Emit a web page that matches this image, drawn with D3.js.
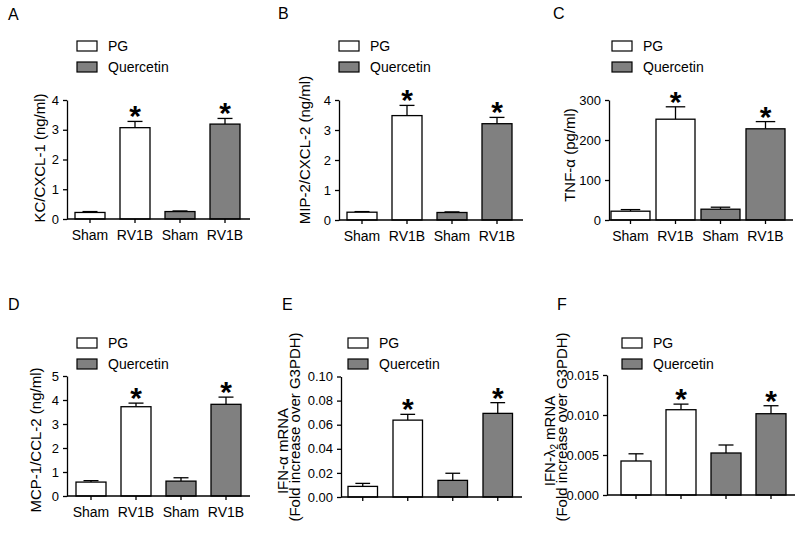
<!DOCTYPE html>
<html>
<head>
<meta charset="utf-8">
<script src="https://cdn.jsdelivr.net/npm/d3@7"></script>
<style>
  body { margin: 0; background: #fff; }
  svg text { font-family: "Liberation Sans", Arial, sans-serif; fill: #000; }
</style>
</head>
<body>
<svg id="fig" width="800" height="539"></svg>
<script>
// groups along the x axis, and which treatment each bar belongs to
var groups = ["Sham", "RV1B", "Sham", "RV1B"];
var treatment = ["PG", "PG", "Quercetin", "Quercetin"];
var starred = [false, true, false, true];

// A: KC/CXCL-1 (ng/ml)
var kcMean = [0.22, 3.07, 0.25, 3.19];
var kcErr = [0.03, 0.21, 0.02, 0.19];
// B: MIP-2/CXCL-2 (ng/ml)
var mipMean = [0.26, 3.48, 0.25, 3.21];
var mipErr = [0.02, 0.34, 0.02, 0.21];
// C: TNF-a (pg/ml)
var tnfMean = [22, 252, 27, 228];
var tnfErr = [4, 31, 5, 18];
// D: MCP-1/CCL-2 (ng/ml)
var mcpMean = [0.58, 3.72, 0.62, 3.82];
var mcpErr = [0.06, 0.15, 0.14, 0.30];
// E: IFN-a mRNA
var ifnaMean = [0.0088, 0.0638, 0.0138, 0.0694];
var ifnaErr = [0.0025, 0.0048, 0.0059, 0.0089];
// F: IFN-l2 mRNA
var ifnlMean = [0.00425, 0.01066, 0.00525, 0.01016];
var ifnlErr = [0.0009, 0.0007, 0.0010, 0.0010];

var kcTicks = [0, 1, 2, 3, 4];
var mipTicks = [0, 1, 2, 3, 4];
var tnfTicks = [0, 100, 200, 300];
var mcpTicks = [0, 1, 2, 3, 4, 5];
var ifnaTicks = [0, 0.02, 0.04, 0.06, 0.08, 0.10];
var ifnlTicks = [0, 0.005, 0.010, 0.015];

var fill = { "PG": "#ffffff", "Quercetin": "#808080" };

var svg = d3.select("#fig");

function panel(o) {
    var g = svg.append("g").attr("class", "panel");

    var y = d3.scaleLinear().domain([0, o.max]).range([o.y0, o.y1]);
    var gap = o.step - o.bw;
    var x = d3.scaleBand()
        .domain(d3.range(4))
        .range([o.first - gap / 2, o.first - gap / 2 + 4 * o.step])
        .paddingInner(gap / o.step)
        .paddingOuter(gap / o.step / 2);
    var mid = function(v) { return x(v.i) + x.bandwidth() / 2; };

    // panel letter
    g.append("text")
        .attr("x", o.lx).attr("y", o.ly)
        .attr("font-size", 16)
        .text(o.letter);

    // legend
    ["PG", "Quercetin"].forEach(function(t, i) {
        var ty = o.legY + i * 21;
        g.append("rect")
            .attr("x", o.legX).attr("y", ty)
            .attr("width", 20).attr("height", 10)
            .attr("fill", fill[t]).attr("stroke", "#000").attr("stroke-width", 1.2);
        g.append("text")
            .attr("x", o.legX + 31).attr("y", ty + 10)
            .attr("font-size", 14)
            .text(t);
    });

    // bars
    var d = o.mean.map(function(m, i) { return { i: i, m: m, e: o.err[i] }; });
    var bars = g.selectAll(".bar").data(d).enter().append("g").attr("class", "bar");

    // error bars (upper only)
    bars.append("line")
        .attr("x1", mid).attr("x2", mid)
        .attr("y1", function(v) { return y(v.m); })
        .attr("y2", function(v) { return y(v.m + v.e); })
        .attr("stroke", "#000").attr("stroke-width", 1.3);
    bars.append("line")
        .attr("x1", function(v) { return x(v.i) + x.bandwidth() / 4; })
        .attr("x2", function(v) { return x(v.i) + x.bandwidth() * 3 / 4; })
        .attr("y1", function(v) { return y(v.m + v.e); })
        .attr("y2", function(v) { return y(v.m + v.e); })
        .attr("stroke", "#000").attr("stroke-width", 1.3);

    bars.append("rect")
        .attr("x", function(v) { return x(v.i); })
        .attr("y", function(v) { return y(v.m); })
        .attr("width", x.bandwidth())
        .attr("height", function(v) { return y(0) - y(v.m); })
        .attr("fill", function(v) { return fill[treatment[v.i]]; })
        .attr("stroke", "#000").attr("stroke-width", 1.3);

    // asterisks
    bars.filter(function(v) { return starred[v.i]; })
        .append("text")
        .attr("x", mid)
        .attr("y", function(v) { return y(v.m + v.e) + 5; })
        .attr("text-anchor", "middle")
        .attr("font-size", 30).attr("font-weight", "bold")
        .text("*");

    // y axis
    var ya = g.append("g")
        .attr("transform", "translate(" + o.ax + ",0)")
        .call(d3.axisLeft(y).tickValues(o.ticks).tickFormat(d3.format(o.fmt))
            .tickSize(4).tickPadding(4).tickSizeOuter(0));
    ya.select(".domain").attr("stroke-width", 1.3);
    ya.selectAll(".tick line").attr("stroke-width", 1.3);
    ya.selectAll(".tick text").attr("font-size", 13).attr("font-family", null);

    // x axis
    g.append("line")
        .attr("x1", o.ax).attr("x2", o.xEnd)
        .attr("y1", y(0)).attr("y2", y(0))
        .attr("stroke", "#000").attr("stroke-width", 1.3);
    bars.append("line")
        .attr("x1", mid).attr("x2", mid)
        .attr("y1", y(0)).attr("y2", y(0) + 4)
        .attr("stroke", "#000").attr("stroke-width", 1.3);
    if (o.xlabels) {
        bars.append("text")
            .attr("x", mid)
            .attr("y", y(0) + 21)
            .attr("text-anchor", "middle")
            .attr("font-size", 14)
            .text(function(v) { return groups[v.i]; });
    }

    // y axis title lines
    o.titles.forEach(function(t) {
        var tx = g.append("text")
            .attr("transform", "translate(" + t.x + "," + t.yc + ") rotate(-90)")
            .attr("text-anchor", "middle")
            .attr("font-size", 15);
        t.parts.forEach(function(p) {
            var s = tx.append("tspan").text(p.s);
            if (p.sub) s.attr("font-size", 10).attr("dy", 3);
            if (p.up) s.attr("dy", -3);
        });
    });
}

panel({ letter: "A", lx: 8, ly: 20, legX: 77, legY: 41,
    mean: kcMean, err: kcErr, max: 4, ticks: kcTicks, fmt: "d",
    ax: 67, y0: 219, y1: 100, first: 75, bw: 30, step: 45, xEnd: 250, xlabels: true,
    titles: [{ x: 45, yc: 158, parts: [{ s: "KC/CXCL-1 (ng/ml)" }] }] });

panel({ letter: "B", lx: 278, ly: 19, legX: 339, legY: 41,
    mean: mipMean, err: mipErr, max: 4, ticks: mipTicks, fmt: "d",
    ax: 339, y0: 220, y1: 100, first: 347, bw: 30, step: 45, xEnd: 523, xlabels: true,
    titles: [{ x: 310, yc: 150, parts: [{ s: "MIP-2/CXCL-2 (ng/ml)" }] }] });

panel({ letter: "C", lx: 553, ly: 19, legX: 612, legY: 41,
    mean: tnfMean, err: tnfErr, max: 300, ticks: tnfTicks, fmt: "d",
    ax: 609, y0: 220, y1: 100, first: 611, bw: 39, step: 45, xEnd: 793, xlabels: true,
    titles: [{ x: 575, yc: 155, parts: [{ s: "TNF-\u03b1 (pg/ml)" }] }] });

panel({ letter: "D", lx: 8, ly: 310, legX: 77, legY: 338,
    mean: mcpMean, err: mcpErr, max: 5, ticks: mcpTicks, fmt: "d",
    ax: 67, y0: 496, y1: 376, first: 76, bw: 30, step: 45, xEnd: 250, xlabels: true,
    titles: [{ x: 41, yc: 440, parts: [{ s: "MCP-1/CCL-2 (ng/ml)" }] }] });

panel({ letter: "E", lx: 282, ly: 310, legX: 348, legY: 338,
    mean: ifnaMean, err: ifnaErr, max: 0.10, ticks: ifnaTicks, fmt: ".2f",
    ax: 341, y0: 497, y1: 376.5, first: 348, bw: 29.5, step: 45, xEnd: 522, xlabels: false,
    titles: [{ x: 288, yc: 451, parts: [{ s: "IFN-\u03b1 mRNA" }] },
             { x: 300, yc: 427, parts: [{ s: "(Fold increase over G3PDH)" }] }] });

panel({ letter: "F", lx: 557, ly: 310, legX: 622, legY: 338,
    mean: ifnlMean, err: ifnlErr, max: 0.015, ticks: ifnlTicks, fmt: ".3f",
    ax: 607, y0: 495, y1: 375, first: 621, bw: 30, step: 45, xEnd: 795, xlabels: false,
    titles: [{ x: 555, yc: 441, parts: [{ s: "IFN-\u03bb" }, { s: "2", sub: true }, { s: " mRNA", up: true }] },
             { x: 567, yc: 427, parts: [{ s: "(Fold increase over G3PDH)" }] }] });
</script>
</body>
</html>
